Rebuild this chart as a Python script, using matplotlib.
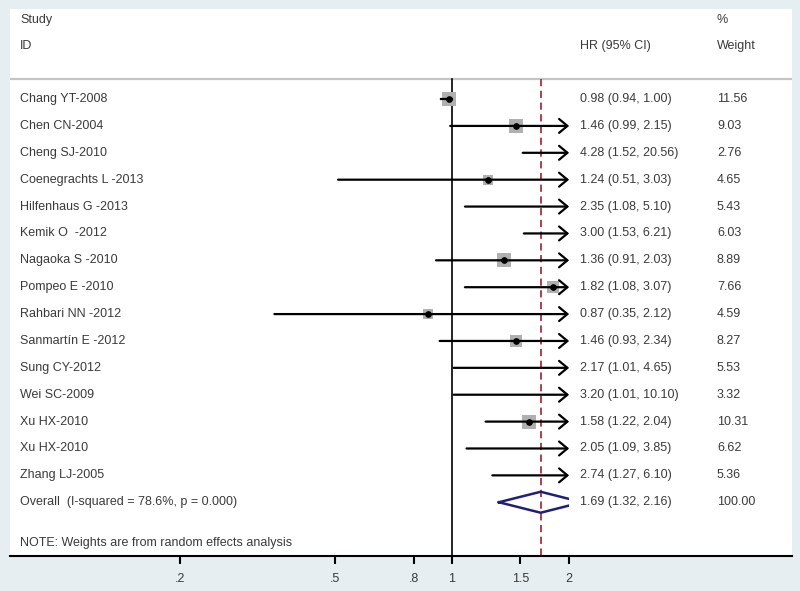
import numpy as np
import matplotlib
matplotlib.use('Agg')
import matplotlib.pyplot as plt
from matplotlib.patches import Rectangle

studies = ['Chang YT-2008', 'Chen CN-2004', 'Cheng SJ-2010', 'Coenegrachts L -2013',
           'Hilfenhaus G -2013', 'Kemik O  -2012', 'Nagaoka S -2010', 'Pompeo E -2010',
           'Rahbari NN -2012', 'Sanmartín E -2012', 'Sung CY-2012', 'Wei SC-2009',
           'Xu HX-2010', 'Xu HX-2010', 'Zhang LJ-2005']
hr = [0.98, 1.46, 4.28, 1.24, 2.35, 3.00, 1.36, 1.82, 0.87, 1.46, 2.17, 3.20, 1.58, 2.05, 2.74]
lower = [0.94, 0.99, 1.52, 0.51, 1.08, 1.53, 0.91, 1.08, 0.35, 0.93, 1.01, 1.01, 1.22, 1.09, 1.27]
upper = [1.00, 2.15, 20.56, 3.03, 5.10, 6.21, 2.03, 3.07, 2.12, 2.34, 4.65, 10.10, 2.04, 3.85, 6.10]
weights = [11.56, 9.03, 2.76, 4.65, 5.43, 6.03, 8.89, 7.66, 4.59, 8.27, 5.53, 3.32, 10.31, 6.62, 5.36]

overall_hr = 1.69
overall_lo = 1.32
overall_hi = 2.16
overall_label = 'Overall  (I-squared = 78.6%, p = 0.000)'

xticks = [0.2, 0.5, 0.8, 1, 1.5, 2]
xtick_labels = ['.2', '.5', '.8', '1', '1.5', '2']

bg = '#e6eef1'
txt = '#3a3a3a'
fs = 9
plt.rcParams['font.family'] = ['Liberation Sans', 'DejaVu Sans']

fig = plt.figure(figsize=(8, 5.91), dpi=100, facecolor=bg)
# panel: x 10..792 px, y 9..556 px
ax = fig.add_axes([10 / 800, 1 - 556 / 591, 782 / 800, 547 / 591])
ax.set_facecolor('white')
ax.set_xscale('log')
ax.set_xlim(0.0733, 7.47)
ax.set_ylim(17, -3.35)

for s in ['top', 'right', 'left']:
    ax.spines[s].set_visible(False)
ax.spines['bottom'].set_linewidth(1.5)
ax.spines['bottom'].set_color('black')
ax.set_yticks([])
ax.set_xticks(xticks)
ax.set_xticklabels(xtick_labels)
ax.xaxis.set_minor_locator(matplotlib.ticker.NullLocator())
ax.tick_params(axis='x', length=6, width=1.5, colors='black', labelcolor=txt,
               labelsize=fs, pad=6)

xmax_clip = 2.0
sep_y = -0.74

# header
tr = ax.get_yaxis_transform()
ax.text(0.0128, -2.94, 'Study', transform=tr, fontsize=fs, color=txt, va='center')
ax.text(0.0128, -1.96, 'ID', transform=tr, fontsize=fs, color=txt, va='center')
ax.text(0.7289, -1.96, 'HR (95% CI)', transform=tr, fontsize=fs, color=txt, va='center')
ax.text(0.904, -2.94, '%', transform=tr, fontsize=fs, color=txt, va='center')
ax.text(0.904, -1.96, 'Weight', transform=tr, fontsize=fs, color=txt, va='center')
ax.axhline(sep_y, color='#c4c4c4', lw=1.6)

# reference lines
ax.plot([1, 1], [sep_y, 17], color='black', lw=1.2, zorder=2)
ax.plot([overall_hr, overall_hr], [sep_y, 17], color='#a8323c', lw=1.3,
        dashes=(4, 2.5), zorder=2)

for i, name in enumerate(studies):
    ax.text(0.0128, i, name, transform=tr, fontsize=fs, color=txt, va='center')
    ax.text(0.7289, i, f'{hr[i]:.2f} ({lower[i]:.2f}, {upper[i]:.2f})', transform=tr,
            fontsize=fs, color=txt, va='center')
    ax.text(0.904, i, f'{weights[i]:.2f}', transform=tr, fontsize=fs, color=txt, va='center')
    if hr[i] <= xmax_clip:
        ax.scatter([hr[i]], [i], marker='s', s=10 * weights[i], color='#b0b0b0',
                   linewidths=0, zorder=3)
    if upper[i] > xmax_clip:
        ax.annotate('', xy=(xmax_clip, i), xytext=(lower[i], i),
                    arrowprops=dict(arrowstyle='->,head_length=0.6,head_width=0.5',
                                    lw=1.6, color='black', shrinkA=0, shrinkB=0,
                                    mutation_scale=10),
                    zorder=4)
    else:
        ax.plot([lower[i], upper[i]], [i, i], color='black', lw=1.6, zorder=4)
    if hr[i] <= xmax_clip:
        ax.plot([hr[i]], [i], 'o', color='black', ms=3.8, zorder=5)

# overall
oy = len(studies)
ax.text(0.0128, oy, overall_label, transform=tr, fontsize=fs, color=txt, va='center')
ax.text(0.7289, oy, f'{overall_hr:.2f} ({overall_lo:.2f}, {overall_hi:.2f})', transform=tr,
        fontsize=fs, color=txt, va='center')
ax.text(0.904, oy, '100.00', transform=tr, fontsize=fs, color=txt, va='center')
h = 0.39
dline, = ax.plot([overall_lo, overall_hr, overall_hi, overall_hr, overall_lo],
                 [oy, oy - h, oy, oy + h, oy], color='#1f1f78', lw=1.8, zorder=4)
clip = Rectangle((0.01, -10), xmax_clip - 0.01, 40, transform=ax.transData)
dline.set_clip_path(clip)

ax.text(0.0128, 16.5, 'NOTE: Weights are from random effects analysis', transform=tr,
        fontsize=fs, color=txt, va='center')

fig.savefig('out.png', dpi=100, facecolor=bg)
